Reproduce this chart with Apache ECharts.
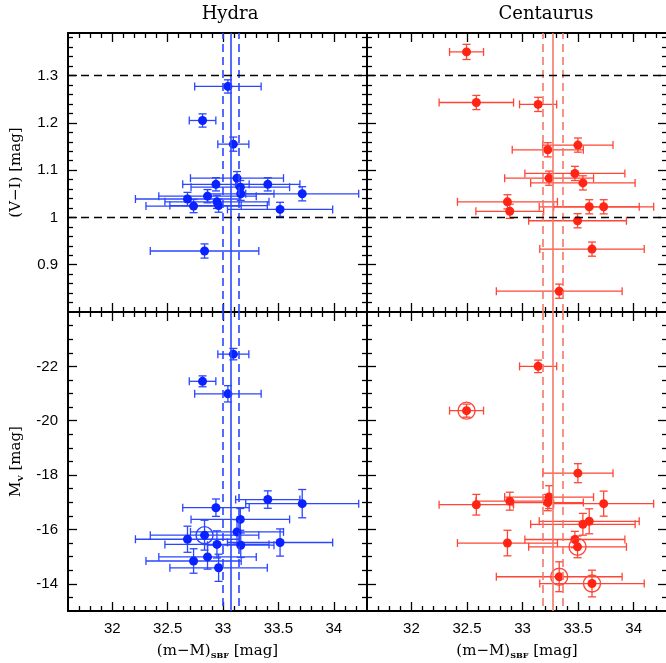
<!DOCTYPE html>
<html>
<head>
<meta charset="utf-8">
<script src="https://cdn.jsdelivr.net/npm/echarts@6/dist/echarts.min.js"></script>
<style>
  html, body { margin: 0; padding: 0; background: #ffffff; }
  #chart { width: 666px; height: 663px; }
</style>
</head>
<body>
<div id="chart"></div>
<script>
// SBF distance moduli of Hydra and Centaurus galaxies against colour and luminosity

// ---- tick labels ----
const xTicks = [32, 32.5, 33, 33.5, 34];
const colorTicks = [0.9, 1, 1.1, 1.2, 1.3];
const mvTicks = [-22, -20, -18, -16, -14];

// ---- Hydra ----
const hydraDist    = [33.044, 32.815, 33.093, 33.126, 32.936, 33.404, 33.156, 33.16, 33.715, 32.679, 32.86, 32.945, 32.96, 32.734, 33.515, 32.833];
const hydraDistErr = [0.30, 0.12, 0.14, 0.42, 0.30, 0.29, 0.445, 0.30, 0.51, 0.47, 0.44, 0.47, 0.44, 0.43, 0.475, 0.49];
const hydraVI      = [1.277, 1.205, 1.155, 1.083, 1.070, 1.070, 1.064, 1.050, 1.050, 1.039, 1.045, 1.033, 1.025, 1.024, 1.017, 0.929];
const hydraVIErr   = [0.014, 0.014, 0.015, 0.014, 0.014, 0.014, 0.014, 0.014, 0.015, 0.014, 0.014, 0.014, 0.014, 0.014, 0.015, 0.015];
const hydraMv      = [-20.99, -21.45, -22.45, -15.91, -16.80, -17.10, -16.37, -15.42, -16.95, -15.64, -14.99, -15.45, -14.59, -14.84, -15.52, -15.79];
const hydraMvErr   = [0.30, 0.20, 0.21, 0.45, 0.32, 0.32, 0.40, 0.45, 0.52, 0.48, 0.45, 0.50, 0.50, 0.45, 0.50, 0.55];
const hydraRinged  = [15];
const hydraMean = [33.07, 33.00, 33.14];   // mean, lower, upper

// ---- Centaurus ----
const cenDist    = [32.496, 32.584, 33.14, 33.498, 33.227, 33.471, 33.239, 33.543, 32.864, 33.60, 33.73, 32.885, 33.495, 33.625, 33.33];
const cenDistErr = [0.153, 0.335, 0.167, 0.316, 0.32, 0.45, 0.40, 0.47, 0.45, 0.45, 0.45, 0.305, 0.44, 0.47, 0.566];
const cenVI      = [1.350, 1.243, 1.239, 1.153, 1.143, 1.093, 1.083, 1.073, 1.033, 1.0225, 1.0225, 1.013, 0.993, 0.933, 0.844];
const cenVIErr   = [0.016, 0.015, 0.015, 0.015, 0.015, 0.015, 0.015, 0.015, 0.015, 0.015, 0.015, 0.015, 0.015, 0.015, 0.015];
const cenMv      = [-20.37, -16.91, -22.00, -18.07, -16.99, -15.63, -17.19, -16.19, -15.50, -16.30, -16.95, -17.04, -15.36, -14.01, -14.26];
const cenMvErr   = [0.24, 0.38, 0.23, 0.35, 0.30, 0.30, 0.42, 0.40, 0.47, 0.46, 0.46, 0.33, 0.40, 0.49, 0.55];
const cenRinged  = [0, 12, 13, 14];
const cenMean = [33.27, 33.18, 33.36];

// colour band limits
const colorLimits = [1.0, 1.3];

// ---- styling ----
const SANS = '"Liberation Sans", Arial, sans-serif';
const SERIF = '"DejaVu Serif", serif';
const BLUE = '#0a22ff', BLUE_BAR = '#2a46ff', BLUE_LINE = '#2a48ff';
const RED = '#ff2414', RED_BAR = '#ff4636', RED_LINE = '#f27868';

const X_EXT = [31.6, 34.3];
const VI_EXT = [0.8, 1.39];
const MV_EXT = [-24, -13];

function steps(from, to, step, skip) {
  const out = [];
  const n = Math.round((to - from) / step);
  for (let k = 0; k <= n; k++) {
    const v = Math.round((from + k * step) * 1000) / 1000;
    if (!skip.some(s => Math.abs(s - v) < 1e-6)) out.push(v);
  }
  return out;
}
const xMinor = steps(31.7, 34.2, 0.1, xTicks);
const colorMinor = steps(0.82, 1.38, 0.02, colorTicks);
const mvMinor = steps(-23.5, -13.5, 0.5, mvTicks);

// one axis of the frame: major or minor ticks, optional labels / name
function frameAxis(g, pos, ext, ticks, major, showLabels, extra) {
  return Object.assign({
    type: 'value', gridIndex: g, position: pos, min: ext[0], max: ext[1],
    axisLine: { show: major, onZero: false, lineStyle: { color: '#000', width: 2 } },
    axisTick: { show: true, inside: true, length: major ? 9 : 5, customValues: ticks,
                lineStyle: { color: '#000', width: 1.3 } },
    axisLabel: { show: showLabels, customValues: ticks, margin: 10,
                 fontFamily: SANS, fontSize: 15, color: '#000' },
    splitLine: { show: false }, minorTick: { show: false }, minorSplitLine: { show: false },
    nameMoveOverlap: false
  }, extra || {});
}

const nameStyle = {
  fontFamily: SERIF, fontSize: 15, color: '#000',
  rich: {
    m: { fontFamily: SERIF, fontSize: 15, color: '#000', lineHeight: 18, verticalAlign: 'middle' },
    s: { fontFamily: SERIF, fontSize: 8, fontWeight: 'bold', color: '#000', lineHeight: 10, verticalAlign: 'bottom' }
  }
};

const xAxes = [], yAxes = [];
// grids: 0 Hydra colour, 1 Centaurus colour, 2 Hydra Mv, 3 Centaurus Mv
for (let g = 0; g < 4; g++) {
  const bottomRow = g >= 2, leftCol = g % 2 === 0;
  const xName = bottomRow ? {
    name: '{m|(m\u2212M)}{s|SBF}{m| [mag]}', nameLocation: 'middle', nameGap: 31, nameTextStyle: nameStyle
  } : {};
  xAxes.push(frameAxis(g, 'bottom', X_EXT, xTicks, true, bottomRow, xName));
  xAxes.push(frameAxis(g, 'bottom', X_EXT, xMinor, false, false));
  xAxes.push(frameAxis(g, 'top', X_EXT, xTicks, true, false));
  xAxes.push(frameAxis(g, 'top', X_EXT, xMinor, false, false));

  const yExt = bottomRow ? MV_EXT : VI_EXT;
  const yMaj = bottomRow ? mvTicks : colorTicks;
  const yMin = bottomRow ? mvMinor : colorMinor;
  const inv = { inverse: bottomRow };
  const yName = leftCol ? Object.assign({
    name: bottomRow ? '{m|M}{s|V}{m| [mag]}' : '{m|(V\u2212I) [mag]}',
    nameLocation: 'middle', nameGap: 43, nameTextStyle: nameStyle
  }, inv) : inv;
  yAxes.push(frameAxis(g, 'left', yExt, yMaj, true, leftCol, yName));
  yAxes.push(frameAxis(g, 'left', yExt, yMin, false, false, inv));
  yAxes.push(frameAxis(g, 'right', yExt, yMaj, true, false, inv));
  yAxes.push(frameAxis(g, 'right', yExt, yMin, false, false, inv));
}

function errorBars(color) {
  return function (params, api) {
    const x = api.value(0), y = api.value(1), ex = api.value(2), ey = api.value(3);
    const l = api.coord([x - ex, y]), r = api.coord([x + ex, y]);
    const t = api.coord([x, y + ey]), b = api.coord([x, y - ey]);
    const cap = 4;
    const style = { stroke: color, lineWidth: 1.3, fill: null };
    const seg = (x1, y1, x2, y2) => ({ type: 'line', shape: { x1, y1, x2, y2 }, style });
    return {
      type: 'group',
      children: [
        seg(l[0], l[1], r[0], r[1]),
        seg(l[0], l[1] - cap, l[0], l[1] + cap),
        seg(r[0], r[1] - cap, r[0], r[1] + cap),
        seg(t[0], t[1], b[0], b[1]),
        seg(t[0] - cap, t[1], t[0] + cap, t[1]),
        seg(b[0] - cap, b[1], b[0] + cap, b[1])
      ]
    };
  };
}

function panelSeries(g, xs, exs, ys, eys, color, barColor, ringed) {
  const out = [
    {
      type: 'custom', xAxisIndex: g * 4, yAxisIndex: g * 4, silent: true, z: 3,
      dimensions: ['x', 'y', 'ex', 'ey'], encode: { x: 'x', y: 'y' },
      data: xs.map((x, i) => [x, ys[i], exs[i], eys[i]]),
      renderItem: errorBars(barColor)
    },
    {
      type: 'scatter', xAxisIndex: g * 4, yAxisIndex: g * 4, silent: true, z: 4,
      symbol: 'circle', symbolSize: 9, itemStyle: { color: color, opacity: 1 },
      data: xs.map((x, i) => [x, ys[i]])
    }
  ];
  if (ringed.length) {
    out.push({
      type: 'scatter', xAxisIndex: g * 4, yAxisIndex: g * 4, silent: true, z: 4,
      symbol: 'circle', symbolSize: 17,
      itemStyle: { color: 'rgba(0,0,0,0)', borderColor: barColor, borderWidth: 1.4, opacity: 1 },
      data: ringed.map(i => [xs[i], ys[i]])
    });
  }
  return out;
}

function refLines(g, mean, lineColor, withLimits) {
  const data = [
    { xAxis: mean[0], lineStyle: { color: lineColor, type: 'solid', width: 1.6 } },
    { xAxis: mean[1], lineStyle: { color: lineColor, type: [8, 5], width: 1.6 } },
    { xAxis: mean[2], lineStyle: { color: lineColor, type: [8, 5], width: 1.6 } }
  ];
  if (withLimits) {
    colorLimits.forEach(v => data.push({ yAxis: v, lineStyle: { color: '#000', type: [8, 5], width: 1.4 } }));
  }
  return {
    type: 'scatter', xAxisIndex: g * 4, yAxisIndex: g * 4, silent: true, z: 2, data: [],
    markLine: { silent: true, symbol: ['none', 'none'], label: { show: false }, animation: false, data: data }
  };
}

const series = [].concat(
  refLines(0, hydraMean, BLUE_LINE, true),
  refLines(1, cenMean, RED_LINE, true),
  refLines(2, hydraMean, BLUE_LINE, false),
  refLines(3, cenMean, RED_LINE, false),
  panelSeries(0, hydraDist, hydraDistErr, hydraVI, hydraVIErr, BLUE, BLUE_BAR, []),
  panelSeries(1, cenDist, cenDistErr, cenVI, cenVIErr, RED, RED_BAR, []),
  panelSeries(2, hydraDist, hydraDistErr, hydraMv, hydraMvErr, BLUE, BLUE_BAR, hydraRinged),
  panelSeries(3, cenDist, cenDistErr, cenMv, cenMvErr, RED, RED_BAR, cenRinged)
);

const chart = echarts.init(document.getElementById('chart'), null, { renderer: 'canvas' });
chart.setOption({
  animation: false,
  backgroundColor: '#ffffff',
  grid: [
    { left: 68, top: 33, width: 299, height: 279, outerBoundsMode: 'none' },
    { left: 367, top: 33, width: 300, height: 279, outerBoundsMode: 'none' },
    { left: 68, top: 312, width: 299, height: 299, outerBoundsMode: 'none' },
    { left: 367, top: 312, width: 300, height: 299, outerBoundsMode: 'none' }
  ],
  xAxis: xAxes,
  yAxis: yAxes,
  graphic: [
    { type: 'text', x: 230, y: 14, silent: true,
      style: { text: 'Hydra', font: '18px ' + SERIF, fill: '#000', align: 'center', verticalAlign: 'middle' } },
    { type: 'text', x: 546, y: 14, silent: true,
      style: { text: 'Centaurus', font: '18px ' + SERIF, fill: '#000', align: 'center', verticalAlign: 'middle' } }
  ],
  series: series
});
</script>
</body>
</html>
